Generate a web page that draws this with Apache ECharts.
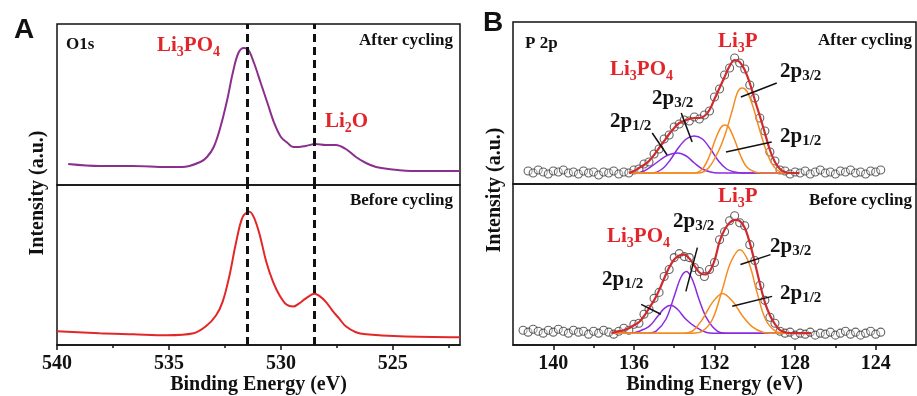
<!DOCTYPE html>
<html>
<head>
<meta charset="utf-8">
<script src="https://cdn.jsdelivr.net/npm/echarts@6/dist/echarts.min.js"></script>
<style>
html, body { margin: 0; padding: 0; background: #fff; }
#chart { width: 917px; height: 396px; }
</style>
</head>
<body>
<div id="chart"></div>
<script>
// ---- panel A, O1s spectra (binding energy, intensity a.u.)
var o1sAfter = [[539.5,21],[538.1,19],[536.6,19],[535.1,18],[534.4,18],[533.6,23],[533.3,28],[533.0,38],[532.7,58],[532.4,85],[532.15,112],[531.9,132],[531.65,137],[531.45,135],[531.2,122],[530.9,102],[530.6,82],[530.3,62],[530.0,48],[529.7,42],[529.45,38],[529.2,38],[528.9,39],[528.45,41],[528.0,40],[527.55,40],[527.1,36],[526.65,28],[526.2,22],[525.75,18],[525.2,16],[524.0,14],[522.0,14]];
var o1sBefore = [[540.0,14],[538.1,12],[536.6,11],[535.1,10],[533.9,12],[533.35,19],[532.9,30],[532.6,44],[532.3,70],[532.0,104],[531.7,130],[531.4,135],[531.2,129],[530.95,112],[530.65,84],[530.35,64],[530.05,50],[529.75,41],[529.45,39],[529.2,42],[528.9,47],[528.5,52],[528.3,50],[528.0,44],[527.7,35],[527.4,27],[527.1,19],[526.65,13],[526.2,11],[524.7,9],[522.0,8]];
var o1sRefLines = [531.5, 528.5];
var o1sTicks = [525, 530, 535, 540];
var o1sMinorTicks = [522.5, 527.5, 532.5, 537.5];

// ---- panel B, P 2p spectra
var p2pAfterPoints = [[141.25,13],[141.0,11],[140.75,14],[140.5,12],[140.25,10],[140.0,13],[139.75,12],[139.5,14],[139.25,11],[139.0,12],[138.75,10],[138.5,13],[138.25,11],[138.0,12],[137.75,9],[137.5,12],[137.25,11],[137.0,13],[136.75,10],[136.5,12],[136.25,11],[136.0,14],[135.75,15],[135.5,20],[135.25,22],[135.0,30],[134.75,35],[134.5,45],[134.25,49],[134.0,57],[133.75,60],[133.5,64],[133.25,63],[133.0,67],[132.75,65],[132.5,69],[132.25,73],[132.0,87],[131.75,95],[131.5,109],[131.25,116],[131.0,126],[130.75,121],[130.5,115],[130.25,99],[130.0,86],[129.75,66],[129.5,53],[129.25,32],[129.0,23],[128.75,14],[128.5,13],[128.25,10],[128.0,12],[127.75,11],[127.5,13],[127.25,10],[127.0,12],[126.75,14],[126.5,11],[126.25,12],[126.0,10],[125.75,13],[125.5,12],[125.25,14],[125.0,11],[124.75,12],[124.5,10],[124.25,13],[124.0,12],[123.75,14]];
var p2pAfterFit = [[136.25,11],[136.0,13],[135.75,16],[135.5,19],[135.25,23],[135.0,29],[134.75,36],[134.5,43],[134.25,50],[134.0,56],[133.75,61],[133.5,63],[133.25,65],[133.0,66],[132.75,66],[132.5,68],[132.25,74],[132.0,85],[131.75,96],[131.5,107],[131.25,118],[131.0,124],[130.75,122],[130.5,114],[130.25,101],[130.0,84],[129.75,68],[129.5,51],[129.25,34],[129.0,22],[128.75,15],[128.5,12],[128.25,11],[127.8,11]];
var p2pAfterPO12 = [[136.2,11],[135.9,11],[135.5,13],[135.1,18],[134.7,24],[134.3,29],[133.83,31],[133.4,28],[133.0,21],[132.6,15],[132.2,12],[131.8,11],[127.8,11]];
var p2pAfterPO32 = [[136.2,11],[135.1,11],[134.6,15],[134.2,24],[133.8,36],[133.4,45],[133.01,48],[132.6,45],[132.2,35],[131.8,23],[131.4,15],[131.0,12],[130.6,11],[127.8,11]];
var p2pAfterLP12 = [[136.2,11],[133.0,11],[132.6,15],[132.27,27],[131.95,45],[131.7,56],[131.5,59],[131.3,57],[131.0,44],[130.7,28],[130.4,17],[130.0,12],[129.6,11],[127.8,11]];
var p2pAfterLP32 = [[136.2,11],[132.8,11],[132.3,16],[131.8,33],[131.45,51],[131.1,75],[130.85,92],[130.63,96],[130.4,93],[130.1,78],[129.8,57],[129.5,37],[129.2,22],[128.9,14],[128.5,11],[127.8,11]];
var p2pAfterLeaders = [[[135.09,51],[134.35,29]],[[133.65,71],[133.11,42]],[[128.91,101],[130.69,87]],[[129.16,42],[131.43,32]]];

var p2pBeforePoints = [[141.5,15],[141.25,13],[141.0,16],[140.75,14],[140.5,12],[140.25,15],[140.0,13],[139.75,16],[139.5,14],[139.25,12],[139.0,15],[138.75,13],[138.5,14],[138.25,11],[138.0,14],[137.75,12],[137.5,15],[137.25,13],[137.0,11],[136.75,14],[136.5,17],[136.25,15],[136.0,21],[135.75,22],[135.5,31],[135.25,36],[135.0,47],[134.75,53],[134.5,69],[134.25,76],[134.0,88],[133.75,92],[133.5,89],[133.25,88],[133.0,78],[132.75,74],[132.5,69],[132.25,76],[132.0,83],[131.75,106],[131.5,114],[131.25,125],[131.0,130],[130.75,123],[130.5,120],[130.25,101],[130.0,85],[129.75,60],[129.5,45],[129.25,28],[129.0,22],[128.75,14],[128.5,12],[128.25,13],[128.0,10],[127.75,12],[127.5,11],[127.25,13],[127.0,10],[126.75,12],[126.5,11],[126.25,13],[126.0,10],[125.75,12],[125.5,14],[125.25,11],[125.0,13],[124.75,10],[124.5,12],[124.25,14],[124.0,11],[123.75,13]];
var p2pBeforeFit = [[137.1,12],[136.75,14],[136.5,15],[136.25,17],[136.0,20],[135.75,23],[135.5,29],[135.25,37],[135.0,45],[134.75,55],[134.5,67],[134.25,78],[134.0,86],[133.75,90],[133.5,91],[133.25,87],[133.0,80],[132.75,73],[132.5,71],[132.25,74],[132.0,85],[131.75,104],[131.5,116],[131.25,123],[131.0,126],[130.75,125],[130.5,118],[130.25,103],[130.0,83],[129.75,62],[129.5,43],[129.25,30],[129.0,21],[128.75,15],[128.5,13],[128.25,12],[127.2,12]];
var p2pBeforePO12 = [[137.1,12],[136.2,12],[135.73,14],[135.23,19],[134.82,29],[134.49,37],[134.17,40],[133.84,36],[133.42,26],[132.93,18],[132.43,13],[131.9,12],[127.2,12]];
var p2pBeforePO32 = [[137.1,12],[135.3,12],[134.9,14],[134.41,26],[134.0,49],[133.67,68],[133.39,74],[133.1,66],[132.77,46],[132.36,26],[131.86,14],[131.4,12],[127.2,12]];
var p2pBeforeLP12 = [[137.1,12],[133.5,12],[133.1,14],[132.6,26],[132.1,43],[131.6,52],[131.1,44],[130.6,29],[130.1,18],[129.6,13],[129.1,12],[127.2,12]];
var p2pBeforeLP32 = [[137.1,12],[133.1,12],[132.6,14],[132.1,26],[131.61,56],[131.2,83],[130.74,96],[130.3,83],[129.89,53],[129.47,26],[128.98,14],[128.5,12],[127.2,12]];
var p2pBeforeLeaders = [[[135.64,41],[134.66,31]],[[132.85,98],[133.42,54]],[[129.22,91],[130.71,81]],[[129.14,49],[131.12,39]]];
var p2pTicks = [124, 128, 132, 136, 140];
var p2pMinorTicks = [126, 130, 134, 138];

var serif = '"Liberation Serif", "Times New Roman", serif';
var RED = '#e0262b';
var FIT = '#d02a2e';
var PURPLE = '#8a2be2';
var ORANGE = '#f68b1f';

var rich = {
    r: { fontSize: 21, fontWeight: 'bold', fontFamily: serif, fill: RED, lineHeight: 26 },
    rs: { fontSize: 14, fontWeight: 'bold', fontFamily: serif, fill: RED, lineHeight: 14, verticalAlign: 'bottom' },
    k: { fontSize: 21, fontWeight: 'bold', fontFamily: serif, fill: '#111', lineHeight: 24 },
    ks: { fontSize: 15, fontWeight: 'bold', fontFamily: serif, fill: '#111', lineHeight: 12, verticalAlign: 'bottom' }
};

function richText(x, y, text) {
    return {
        type: 'text', x: x, y: y, z: 100,
        style: { text: text, rich: rich, align: 'left', verticalAlign: 'middle', textAlign: 'left', textVerticalAlign: 'middle' }
    };
}
function plainText(x, y, text, size, align, family) {
    return {
        type: 'text', x: x, y: y, z: 100,
        style: {
            text: text, fill: '#111',
            font: 'bold ' + size + 'px ' + (family || serif),
            align: align, verticalAlign: 'middle', textAlign: align, textVerticalAlign: 'middle'
        }
    };
}

function bottomAxes(grid, min, max, ticks, minor) {
    return [{
        type: 'value', gridIndex: grid, position: 'bottom', min: min, max: max, inverse: true,
        name: 'Binding Energy (eV)', nameLocation: 'middle', nameGap: 29,
        nameTextStyle: { fontFamily: serif, fontWeight: 'bold', fontSize: 20, color: '#111' },
        axisLine: { show: true, lineStyle: { color: '#111', width: 1.5 } },
        axisTick: { show: true, customValues: ticks, length: 5, lineStyle: { color: '#111', width: 1.5 } },
        axisLabel: { customValues: ticks, margin: 9, fontFamily: serif, fontWeight: 'bold', fontSize: 20, color: '#111' },
        splitLine: { show: false }
    }, {
        type: 'value', gridIndex: grid, position: 'bottom', min: min, max: max, inverse: true,
        axisLine: { show: false },
        axisTick: { show: true, customValues: minor, length: 3, lineStyle: { color: '#111', width: 1.5 } },
        axisLabel: { show: false },
        splitLine: { show: false }
    }];
}

function hiddenX(grid, min, max) {
    return { type: 'value', gridIndex: grid, min: min, max: max, inverse: true, show: false, splitLine: { show: false } };
}
function hiddenY(grid, max) {
    return { type: 'value', gridIndex: grid, min: 0, max: max, show: false, splitLine: { show: false } };
}

var dashMark = {
    silent: true, symbol: 'none', label: { show: false },
    lineStyle: { color: '#111', type: [8, 5], width: 3 },
    data: o1sRefLines.map(function (v) { return { xAxis: v }; })
};

function leaderMark(list) {
    return {
        silent: true, symbol: 'none', label: { show: false },
        lineStyle: { color: '#111', type: 'solid', width: 1.5 },
        data: list.map(function (seg) { return [{ coord: seg[0] }, { coord: seg[1] }]; })
    };
}

function curve(xi, yi, data, color, width) {
    return {
        type: 'line', xAxisIndex: xi, yAxisIndex: yi, data: data,
        showSymbol: false, smooth: 0.35,
        lineStyle: { color: color, width: width }, itemStyle: { color: color }
    };
}
function points(xi, yi, data) {
    return {
        type: 'scatter', xAxisIndex: xi, yAxisIndex: yi, data: data,
        symbol: 'circle', symbolSize: 8,
        itemStyle: { color: 'rgba(255,255,255,0.45)', borderColor: '#3c3c3c', borderWidth: 1.1 }
    };
}

var chart = echarts.init(document.getElementById('chart'));

var aTop = curve(0, 0, o1sAfter, '#8b2f8f', 2);
aTop.markLine = dashMark;
var aBottom = curve(1, 1, o1sBefore, '#e32626', 2);
aBottom.markLine = dashMark;

var bTopFit = curve(3, 2, p2pAfterFit, FIT, 2.2);
bTopFit.markLine = leaderMark(p2pAfterLeaders);
var bBotFit = curve(4, 3, p2pBeforeFit, FIT, 2.2);
bBotFit.markLine = leaderMark(p2pBeforeLeaders);

var option = {
    animation: false,
    backgroundColor: '#fff',
    grid: [
        { left: 57, top: 24, width: 403, height: 161, show: true, borderColor: '#111', borderWidth: 1.5, backgroundColor: 'transparent' },
        { left: 57, top: 185, width: 403, height: 162, show: true, borderColor: '#111', borderWidth: 1.5, backgroundColor: 'transparent' },
        { left: 513, top: 22, width: 403, height: 162, show: true, borderColor: '#111', borderWidth: 1.5, backgroundColor: 'transparent' },
        { left: 513, top: 184, width: 403, height: 162, show: true, borderColor: '#111', borderWidth: 1.5, backgroundColor: 'transparent' }
    ],
    // x axes: 0 A-top, 1/2 A-bottom (major/minor), 3 B-top, 4/5 B-bottom (major/minor)
    xAxis: [hiddenX(0, 522, 540)]
        .concat(bottomAxes(1, 522, 540, o1sTicks, o1sMinorTicks))
        .concat([hiddenX(2, 122, 142)])
        .concat(bottomAxes(3, 122, 142, p2pTicks, p2pMinorTicks)),
    yAxis: [hiddenY(0, 161), hiddenY(1, 162), hiddenY(2, 162), hiddenY(3, 162)],
    series: [
        aTop,
        aBottom,
        points(3, 2, p2pAfterPoints),
        curve(3, 2, p2pAfterPO12, PURPLE, 1.5),
        curve(3, 2, p2pAfterPO32, PURPLE, 1.5),
        curve(3, 2, p2pAfterLP12, ORANGE, 1.5),
        curve(3, 2, p2pAfterLP32, ORANGE, 1.5),
        bTopFit,
        points(4, 3, p2pBeforePoints),
        curve(4, 3, p2pBeforePO12, PURPLE, 1.5),
        curve(4, 3, p2pBeforePO32, PURPLE, 1.5),
        curve(4, 3, p2pBeforeLP12, ORANGE, 1.5),
        curve(4, 3, p2pBeforeLP32, ORANGE, 1.5),
        bBotFit
    ],
    graphic: [
        plainText(24, 30, 'A', 28, 'center', '"Liberation Sans", Arial, sans-serif'),
        plainText(493, 23, 'B', 28, 'center', '"Liberation Sans", Arial, sans-serif'),
        plainText(66, 45, 'O1s', 17, 'left'),
        plainText(453, 41, 'After cycling', 17, 'right'),
        plainText(453, 201, 'Before cycling', 17, 'right'),
        plainText(525, 44, 'P 2p', 17, 'left'),
        plainText(912, 41, 'After cycling', 17, 'right'),
        plainText(912, 201, 'Before cycling', 17, 'right'),
        Object.assign(plainText(38, 193, 'Intensity (a.u.)', 20, 'center'), { rotation: Math.PI / 2 }),
        Object.assign(plainText(495, 190, 'Intensity (a.u.)', 20, 'center'), { rotation: Math.PI / 2 }),
        richText(157, 46, '{r|Li}{rs|3}{r|PO}{rs|4}'),
        richText(325, 122, '{r|Li}{rs|2}{r|O}'),
        richText(718, 42, '{r|Li}{rs|3}{r|P}'),
        richText(610, 70, '{r|Li}{rs|3}{r|PO}{rs|4}'),
        richText(718, 197, '{r|Li}{rs|3}{r|P}'),
        richText(607, 237, '{r|Li}{rs|3}{r|PO}{rs|4}'),
        richText(652, 99, '{k|2p}{ks|3/2}'),
        richText(610, 122, '{k|2p}{ks|1/2}'),
        richText(780, 72, '{k|2p}{ks|3/2}'),
        richText(780, 137, '{k|2p}{ks|1/2}'),
        richText(673, 222, '{k|2p}{ks|3/2}'),
        richText(602, 280, '{k|2p}{ks|1/2}'),
        richText(770, 247, '{k|2p}{ks|3/2}'),
        richText(780, 294, '{k|2p}{ks|1/2}')
    ]
};
chart.setOption(option);
</script>
</body>
</html>
